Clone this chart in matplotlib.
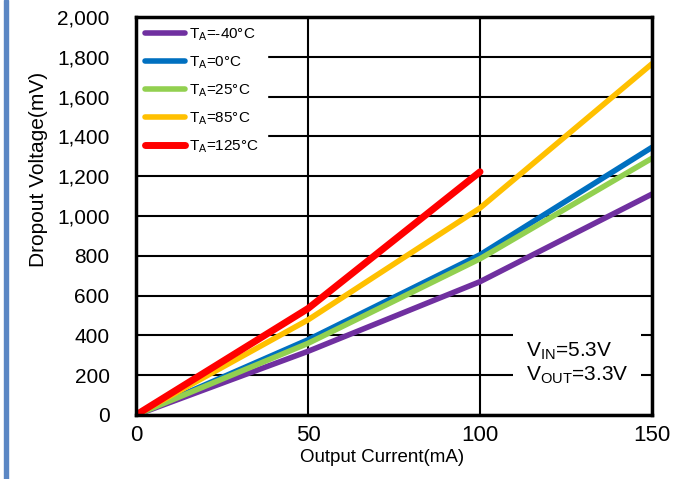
import matplotlib.pyplot as plt
from matplotlib.patches import Rectangle

plt.rcParams['font.family'] = ['Liberation Sans', 'DejaVu Sans']
plt.rcParams['mathtext.fontset'] = 'custom'
plt.rcParams['mathtext.rm'] = 'Liberation Sans'

# Output current, mA
current = [0, 50, 100, 150]

# Dropout voltage, mV
v_m40 = [0, 320, 670, 1110]
v_0 = [0, 378, 805, 1345]
v_25 = [0, 360, 785, 1290]
v_85 = [0, 478, 1040, 1765]
current_125 = [0, 50, 100]
v_125 = [0, 535, 1222]

labels = [r'T$_\mathregular{A}$=-40°C', r'T$_\mathregular{A}$=0°C', r'T$_\mathregular{A}$=25°C',
          r'T$_\mathregular{A}$=85°C', r'T$_\mathregular{A}$=125°C']

fig = plt.figure(figsize=(6.93, 4.79), dpi=100)
ax = fig.add_axes([136 / 693, 64 / 479, 516 / 693, 398 / 479])

# синяя полоса слева
fig.patches.append(Rectangle((4 / 693, 0), 4 / 693, 1, transform=fig.transFigure,
                             color='#5B87C4', zorder=0))

ax.plot(current, v_m40, color='#7030A0', lw=4, label=labels[0], solid_capstyle='round', zorder=3)
ax.plot(current, v_0, color='#0070C0', lw=4, label=labels[1], solid_capstyle='round', zorder=3)
ax.plot(current, v_25, color='#92D050', lw=4, label=labels[2], solid_capstyle='round', zorder=3)
ax.plot(current, v_85, color='#FFC000', lw=4, label=labels[3], solid_capstyle='round', zorder=3)
ax.plot(current_125, v_125, color='#FF0000', lw=5, label=labels[4], solid_capstyle='round', zorder=3)

ax.set_xlim(0, 150)
ax.set_ylim(0, 2000)
ax.set_xticks([0, 50, 100, 150])
ax.set_yticks(range(0, 2001, 200))
ax.set_yticklabels([f'{v:,}' for v in range(0, 2001, 200)])
ax.tick_params(length=0, labelsize=15)
ax.tick_params(axis='y', pad=19)
ax.tick_params(axis='x', pad=7, labelsize=16)
ax.grid(True, color='black', lw=1.5, zorder=1)
for s in ax.spines.values():
    s.set_linewidth(2.5)
    s.set_zorder(7)

ax.set_xlabel('Output Current(mA)', fontsize=13.5)
ax.set_ylabel('Dropout Voltage(mV)', fontsize=15)
ax.xaxis.set_label_coords(0.477, -0.085)
ax.yaxis.set_label_coords(-0.17, 0.616)

leg = ax.legend(loc='upper left', fontsize=11, handlelength=2.6, handletextpad=0.3,
                labelspacing=0.75, borderaxespad=0.1, fancybox=False, framealpha=1,
                edgecolor='white', borderpad=0.5)
leg.set_zorder(5)

ax.text(0.755, 0.13, r'V$_\mathregular{IN}$=5.3V' + '\n' + r'V$_\mathregular{OUT}$=3.3V',
        transform=ax.transAxes, fontsize=15, va='center', ha='left', linespacing=1.2,
        bbox=dict(facecolor='white', edgecolor='none', pad=9), zorder=5)

plt.savefig('out.png', dpi=100)
